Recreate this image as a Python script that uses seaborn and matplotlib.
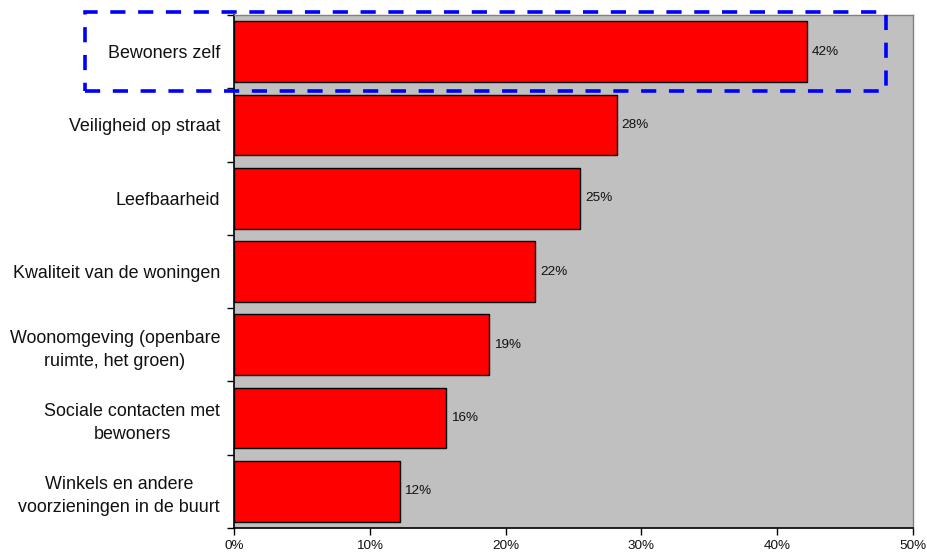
import matplotlib
matplotlib.use("Agg")
import matplotlib.pyplot as plt
import seaborn as sns
import pandas as pd
from matplotlib.patches import Rectangle
from matplotlib.ticker import FixedLocator, FuncFormatter

categories = [
    "Bewoners zelf",
    "Veiligheid op straat",
    "Leefbaarheid",
    "Kwaliteit van de woningen",
    "Woonomgeving (openbare\nruimte, het groen)",
    "Sociale contacten met\nbewoners",
    "Winkels en andere\nvoorzieningen in de buurt",
]
values = [42.2, 28.2, 25.5, 22.2, 18.8, 15.6, 12.2]
value_labels = ["42%", "28%", "25%", "22%", "19%", "16%", "12%"]
x_ticks = [0, 10, 20, 30, 40, 50]

sns.set_style("white")
plt.rcParams["font.family"] = ["Liberation Sans", "DejaVu Sans"]

df = pd.DataFrame({"cat": categories, "val": values})

fig = plt.figure(figsize=(9.28, 5.55), dpi=100)
ax = fig.add_axes([234 / 928, 1 - 528 / 555, (913 - 234) / 928, (528 - 15) / 555])
ax.set_facecolor("#C0C0C0")

sns.barplot(data=df, x="val", y="cat", orient="h", color="#FF0000",
            edgecolor="black", linewidth=1.0, width=0.83, saturation=1, ax=ax)

ax.set_xlim(0, 50)
ax.set_ylim(len(categories) - 0.5, -0.5)
ax.set_xlabel("")
ax.set_ylabel("")

for i, (v, lab) in enumerate(zip(values, value_labels)):
    ax.text(v + 0.35, i, lab, va="center", ha="left", fontsize=9.7, color="#111111")

ax.xaxis.set_major_locator(FixedLocator(x_ticks))
ax.xaxis.set_major_formatter(FuncFormatter(lambda x, p: f"{int(round(x))}%"))
ax.tick_params(axis="x", which="major", length=5, width=1, color="black",
               labelsize=9.7, pad=3.5, direction="out", bottom=True)

ax.yaxis.set_minor_locator(FixedLocator([i - 0.5 for i in range(len(categories) + 1)]))
ax.tick_params(axis="y", which="major", length=0, labelsize=12.9, pad=10)
ax.tick_params(axis="y", which="minor", length=5, width=1, color="black",
               direction="out", left=True)
for t in ax.get_yticklabels():
    t.set_multialignment("center")
    t.set_linespacing(1.45)
    t.set_color("#111111")
for t in ax.get_xticklabels():
    t.set_color("#111111")

for side in ["left", "bottom"]:
    ax.spines[side].set_color("black")
    ax.spines[side].set_linewidth(1.2)
for side in ["right", "top"]:
    ax.spines[side].set_visible(True)
    ax.spines[side].set_color("#808080")
    ax.spines[side].set_linewidth(1.0)

rect = Rectangle((85 / 928, 1 - 91 / 555), (886 - 85) / 928, (91 - 12) / 555,
                 transform=fig.transFigure, fill=False, edgecolor="#0000FF",
                 linewidth=2.6, linestyle=(0, (4.2, 3.5)), clip_on=False, zorder=10)
fig.patches.append(rect)

fig.savefig("out.png", dpi=100)
